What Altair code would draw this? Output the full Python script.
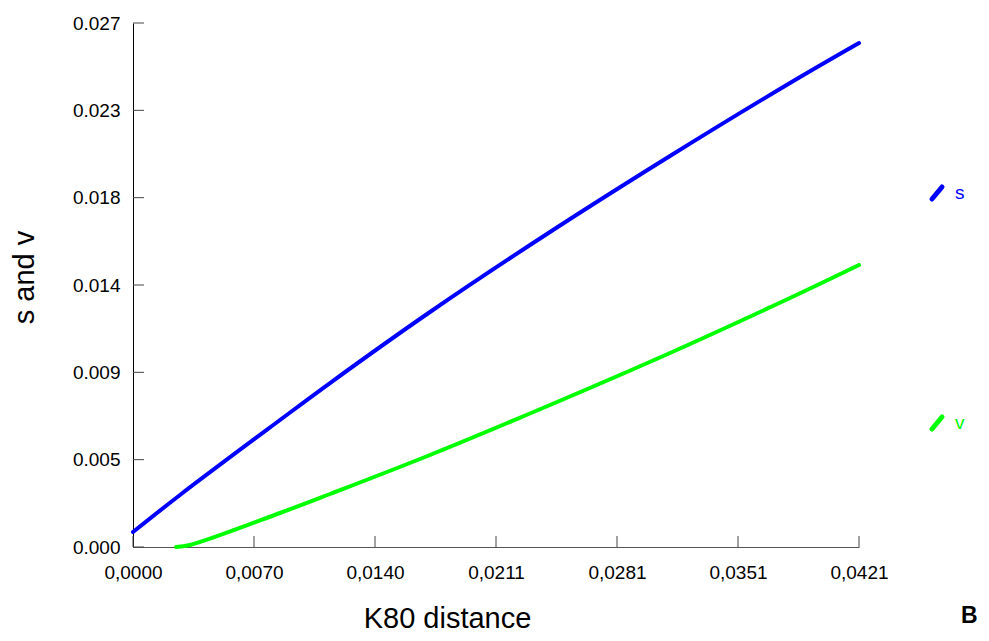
import altair as alt
import pandas as pd

FONT = "Liberation Sans"

# K80 distance (x) vs s and v (y)
s_x = [0.0, 0.002725, 0.008524, 0.011424, 0.017223, 0.024181, 0.03114, 0.038099, 0.0421]
s_y = [0.00077, 0.00268, 0.006544, 0.00845, 0.012109, 0.016231, 0.020147, 0.023909, 0.02597]
v_x = [0.002494, 0.003305, 0.008524, 0.011424, 0.017223, 0.024181, 0.03114, 0.038099, 0.0421]
v_y = [0.0, 0.000103, 0.001752, 0.002731, 0.00474, 0.007317, 0.009996, 0.01283, 0.01453]

x_ticks = [0.0, 0.0421 / 6, 0.0421 * 2 / 6, 0.0421 * 3 / 6, 0.0421 * 4 / 6, 0.0421 * 5 / 6, 0.0421]
x_labels = ["0,0000", "0,0070", "0,0140", "0,0211", "0,0281", "0,0351", "0,0421"]
y_ticks = [0.0, 0.0045, 0.009, 0.0135, 0.018, 0.0225, 0.027]
y_labels = ["0.000", "0.005", "0.009", "0.014", "0.018", "0.023", "0.027"]

series = ["s", "v"]
colors = ["#0000ff", "#00ff00"]

W, H = 726, 524

df = pd.concat([
    pd.DataFrame({"x": s_x, "y": s_y, "series": "s", "order": range(len(s_x))}),
    pd.DataFrame({"x": v_x, "y": v_y, "series": "v", "order": range(len(v_x))}),
])

x_scale = alt.Scale(domain=[0, 0.0421], nice=False, zero=False)
y_scale = alt.Scale(domain=[0, 0.027], nice=False, zero=False)

x_label_expr = "[" + ",".join(f"'{l}'" for l in x_labels) + "][round(datum.value / 0.0421 * 6)]"
y_label_expr = "[" + ",".join(f"'{l}'" for l in y_labels) + "][round(datum.value / 0.0045)]"

lines = alt.Chart(df).mark_line(
    strokeWidth=4, strokeCap="round", strokeJoin="round", interpolate="catmull-rom"
).encode(
    x=alt.X("x:Q", scale=x_scale, axis=alt.Axis(
        values=x_ticks, labelExpr=x_label_expr, ticks=False, tickSize=0, grid=False,
        labelFontSize=19, labelFont=FONT, labelColor="#000", labelPadding=16, labelFlush=False,
        domainColor="#555", domainWidth=1,
        title="K80 distance", titleFontSize=29, titleFont=FONT, titleFontWeight="normal",
        titleColor="#000", titleX=314, titleY=80, titleBaseline="alphabetic", titleAlign="center",
    )),
    y=alt.Y("y:Q", scale=y_scale, axis=alt.Axis(
        values=y_ticks, labelExpr=y_label_expr, ticks=False, tickSize=0, grid=False,
        labelFontSize=19, labelFont=FONT, labelColor="#000", labelPadding=13,
        domainColor="#000", domainWidth=1,
        title="s and v", titleFontSize=29, titleFont=FONT, titleFontWeight="normal",
        titleColor="#000", titleX=-100, titleY=254, titleAngle=270,
        titleBaseline="alphabetic", titleAlign="center",
    )),
    color=alt.Color("series:N", scale=alt.Scale(domain=series, range=colors), legend=None),
    order="order:Q",
)

ytick_df = pd.DataFrame({"y": y_ticks})
ytick = alt.Chart(ytick_df).mark_rule(color="#444", strokeWidth=1).encode(
    y=alt.Y("y:Q", scale=y_scale), x=alt.value(0), x2=alt.value(11)
)
xtick_df = pd.DataFrame({"x": x_ticks})
xtick = alt.Chart(xtick_df).mark_rule(color="#444", strokeWidth=1).encode(
    x=alt.X("x:Q", scale=x_scale), y=alt.value(H), y2=alt.value(H - 11)
)

layers = [lines, ytick, xtick]

legend_pos = {"s": 170, "v": 400}
for name, col in zip(series, colors):
    one = pd.DataFrame({"series": [name]})
    yc = legend_pos[name]
    sym = alt.Chart(one).mark_rule(color=col, strokeWidth=5, strokeCap="round").encode(
        x=alt.value(799), x2=alt.value(809), y=alt.value(yc + 6), y2=alt.value(yc - 6)
    )
    lab = alt.Chart(one).mark_text(
        color=col, fontSize=19, font=FONT, align="left", baseline="middle"
    ).encode(x=alt.value(822), y=alt.value(yc), text="series:N")
    layers += [sym, lab]

btext = alt.Chart(pd.DataFrame({"t": ["B"]})).mark_text(
    fontSize=23, font=FONT, fontWeight="bold", color="#000", align="left", baseline="alphabetic"
).encode(x=alt.value(828), y=alt.value(600), text="t:N")
layers.append(btext)

chart = alt.layer(*layers).properties(
    width=W, height=H,
    autosize=alt.AutoSizeParams(type="none"),
    padding={"left": 125, "top": 15, "right": 122, "bottom": 86},
).configure_view(stroke=None)

chart.save("out.html", embed_options={"renderer": "svg", "actions": False})
